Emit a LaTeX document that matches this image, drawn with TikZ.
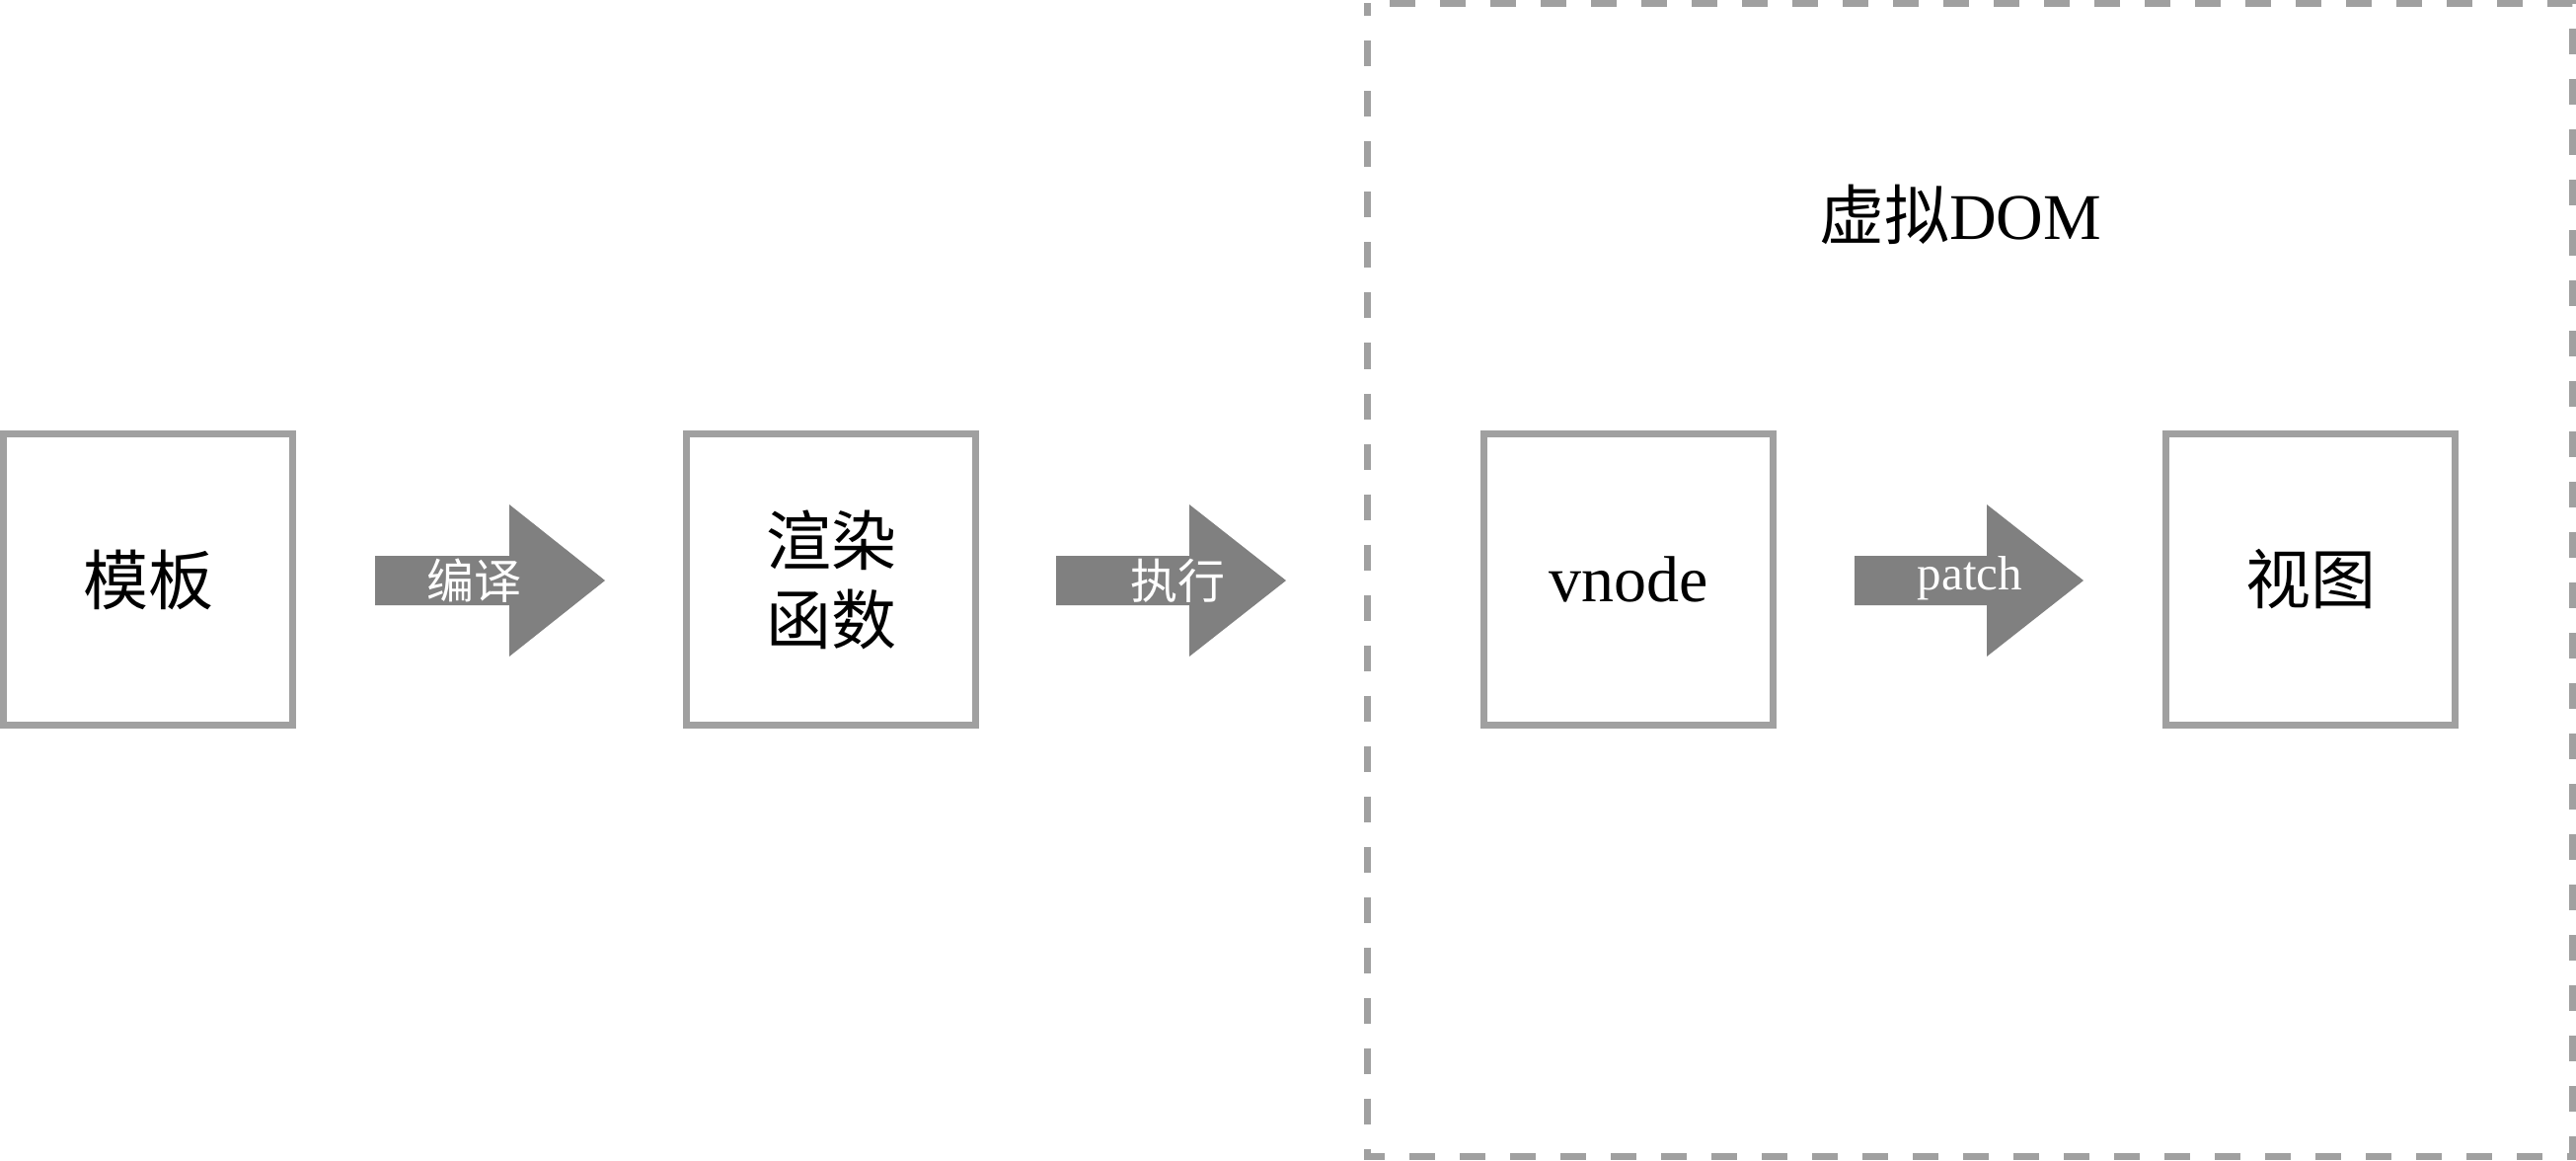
\documentclass[tikz,border=0pt]{standalone}
\usepackage{fontspec}
\setmainfont{Liberation Serif}
\newfontfamily\cjk{Noto Sans CJK SC}
\definecolor{boxgray}{HTML}{A0A0A0}
\definecolor{arrowgray}{HTML}{808080}
\begin{document}
\begin{tikzpicture}[x=0.5pt,y=-0.5pt,
  box/.style={draw=boxgray,line width=3.5pt,minimum width=146.5pt,minimum height=147.5pt,inner sep=0pt,align=center,font=\fontsize{33pt}{40pt}\selectfont},
  bigtext/.style={font=\fontsize{33pt}{40pt}\selectfont,inner sep=0pt},
  arrowlabel/.style={text=white,font=\fontsize{24pt}{28pt}\selectfont,inner sep=0pt},
  blockarrow/.style={fill=arrowgray},
  dashframe/.style={draw=boxgray,line width=3.5pt,dash pattern=on 13pt off 12.5pt,dash phase=6.5pt}]
\useasboundingbox (0,0) rectangle (2610,1176);
% dashed frame
\draw[dashframe] (1385,3.5) rectangle (2606.5,1171.5);
\node[bigtext,anchor=base] (vdomlabel) at (1986,243) {{\cjk 虚拟}DOM};
% boxes
\node[box] (tpl) at (150,587) {\cjk 模板};
\node[box] (render) at (842,587) {\cjk 渲染\\\cjk 函数};
\node[box] (vnode) at (1650,587) {vnode};
\node[box] (view) at (2341,587) {\cjk 视图};
% block arrows
\fill[blockarrow] (380,563) -- (516,563) -- (516,511) -- (613,588) -- (516,665) -- (516,613) -- (380,613) -- cycle;
\node[arrowlabel] (compile) at (480,588) {\cjk 编译};
\fill[blockarrow] (1070,563) -- (1205,563) -- (1205,511) -- (1303,588) -- (1205,665) -- (1205,613) -- (1070,613) -- cycle;
\node[arrowlabel] (exec) at (1193,588) {\cjk 执行};
\fill[blockarrow] (1879,563) -- (2013,563) -- (2013,511) -- (2111,588) -- (2013,665) -- (2013,613) -- (1879,613) -- cycle;
\node[arrowlabel,anchor=base,font=\fontsize{24.5pt}{28pt}\selectfont] (patch) at (1996,597) {patch};
\end{tikzpicture}
\end{document}
